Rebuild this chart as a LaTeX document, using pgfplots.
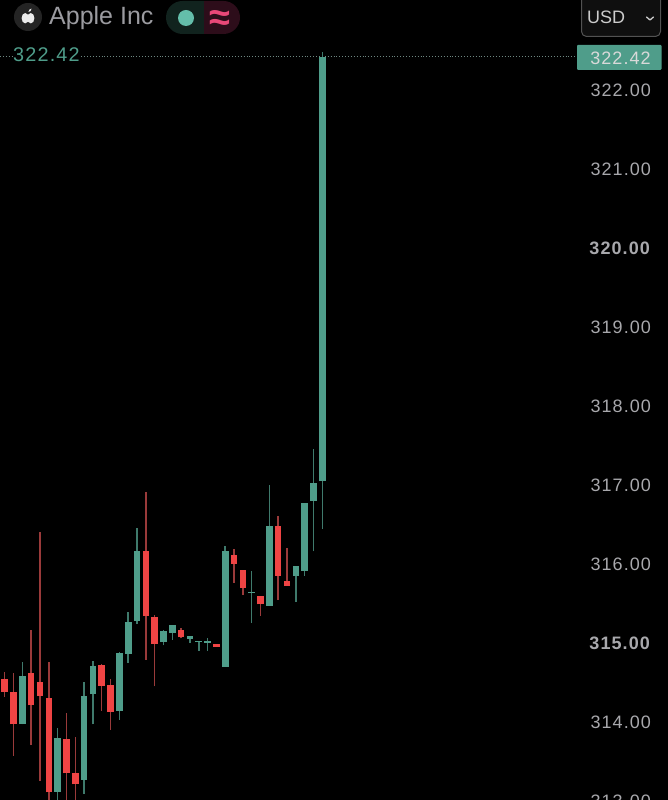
\documentclass[border=0pt]{standalone}
\usepackage{fontspec}
\setmainfont{Liberation Sans}
\newfontfamily\lab[LetterSpace=6]{Liberation Sans}
\usepackage{pgfplots}
\usepackage{pgfplotstable}
\pgfplotsset{compat=1.18}
\definecolor{upc}{HTML}{4F9D8A}
\definecolor{dnc}{HTML}{EF4444}
\definecolor{upw}{HTML}{3F7A6C}
\definecolor{dnw}{HTML}{9A3A3A}
\definecolor{tick}{HTML}{A8A8AC}
\pgfplotstableread{
i low high bot top
2 313.97 314.76 313.97 314.58
6 312.95 313.92 313.12 313.80
9 313.09 314.51 313.27 314.33
10 313.97 314.77 314.35 314.71
13 314.03 314.88 314.14 314.87
14 314.75 315.39 314.86 315.26
15 315.24 316.46 315.28 316.16
18 314.97 315.17 315.01 315.15
19 315.04 315.23 315.13 315.23
21 315.00 315.09 315.05 315.09
22 314.90 315.03 315.01 315.03
23 314.90 315.06 315.00 315.02
25 314.70 316.23 314.70 316.16
28 315.25 315.91 315.63 315.65
30 315.47 317.00 315.47 316.48
33 315.52 315.97 315.85 315.97
34 315.85 316.77 315.91 316.77
35 316.16 317.46 316.80 317.02
36 316.44 322.48 317.05 322.42
}\upt
\pgfplotstableread{
i low high bot top
0 314.32 314.63 314.38 314.54
1 313.57 314.62 313.97 314.38
3 313.71 315.16 314.21 314.62
4 313.25 316.40 314.33 314.51
5 312.95 314.76 313.11 314.31
7 312.95 314.11 313.35 313.78
8 312.95 313.81 313.21 313.36
11 314.14 314.73 314.46 314.72
12 313.90 314.54 314.13 314.47
16 314.79 316.91 315.34 316.16
17 314.45 315.35 314.99 315.33
20 315.06 315.19 315.07 315.16
24 314.95 314.99 314.95 314.99
26 315.76 316.19 316.00 316.11
27 315.61 315.92 315.70 315.92
29 315.34 315.59 315.49 315.59
31 315.55 316.61 315.85 316.48
32 315.72 316.20 315.72 315.79
}\dnt
\pgfplotsset{
  wick/.style n args={3}{draw=none,forget plot,mark=none,
    error bars/.cd,y dir=plus,y explicit,error mark=none,
    error bar style={line width=#2,draw=#1,line cap=butt}},
}
\begin{document}
\begin{tikzpicture}[x=1pt,y=1pt]
\useasboundingbox (0,0) rectangle (668,800);
\clip (0,0) rectangle (668,800);
\begin{axis}[
  at={(0pt,-40.5pt)},anchor=south west,
  width=668pt,height=840.5pt,scale only axis,
  xmin=-0.533,xmax=75.19,ymin=312.5,ymax=323.139,
  axis background/.style={fill=black},
  axis line style={draw=none},
  axis y line=right,axis x line=none,
  xtick=\empty,
  ytick={313,314,315,316,317,318,319,320,321,322},
  yticklabels={313.00,314.00,\textbf{315.00},316.00,317.00,318.00,319.00,\textbf{320.00},321.00,322.00},
  major tick length=0pt,
  yticklabel style={text=tick,font=\lab\fontsize{18}{18}\selectfont,anchor=east,xshift=-13.5pt},
]
\addplot[draw=upc!60!black!60!white,dotted,line width=0.9pt,forget plot,opacity=0.85] coordinates {(-0.533,322.42) (65.4,322.42)};
\addplot[wick={upw}{1.5pt}{}] table[x=i,y=low,y error expr=\thisrow{high}-\thisrow{low}] {\upt};
\addplot[wick={dnw}{1.5pt}{}] table[x=i,y=low,y error expr=\thisrow{high}-\thisrow{low}] {\dnt};
\addplot[wick={upc}{6.6pt}{}] table[x=i,y=bot,y error expr=\thisrow{top}-\thisrow{bot}] {\upt};
\addplot[wick={dnc}{6.6pt}{}] table[x=i,y=bot,y error expr=\thisrow{top}-\thisrow{bot}] {\dnt};
\end{axis}
\begin{scope}[shift={(0,800)},y=-1pt]
  % header
  \fill[white!14!black] (28,17) circle (14);
  \fill[white!92!black] (25.2,18.2) ellipse (3.6 and 5.2);
  \fill[white!92!black] (30.8,18.2) ellipse (3.6 and 5.2);
  \fill[white!92!black] (28.4,12) .. controls (28.4,10) and (30,8.8) .. (31.6,8.6) .. controls (31.6,10.6) and (30,12) .. (28.4,12) -- cycle;
  \node[anchor=west,inner sep=0pt,text=tick!115!white,font=\fontsize{25}{25}\selectfont] at (49,18) {Apple Inc};
  \begin{scope}
    \clip (166,1) rectangle (204,35);
    \fill[fill=upc!22!black,rounded corners=16.5pt] (166,1) rectangle (240,34);
  \end{scope}
  \begin{scope}
    \clip (204,1) rectangle (241,35);
    \fill[fill=dnc!20!black!95!blue,rounded corners=16.5pt] (166,1) rectangle (240,34);
  \end{scope}
  \fill[color={rgb,255:red,100;green,190;blue,170}] (186,18) circle (8);
  \node[text={rgb,255:red,232;green,72;blue,120},inner sep=0pt,font=\fontsize{38}{38}\selectfont\bfseries] at (220,21) {≈};
  % currency box
  \draw[draw=white!32!black,line width=1pt,rounded corners=5pt,fill=white!6!black] (581.5,-6) rectangle (660.5,36.5);
  \node[anchor=west,inner sep=0pt,text=white!80!black,font=\fontsize{18}{18}\selectfont] at (587,17.5) {USD};
  \draw[white!80!black,line width=1.3pt,line cap=round,line join=round] (646.5,17) -- (650,20) -- (653.5,17);
  % current price
  \node[anchor=west,inner sep=0pt,fill=black,text=upc,font=\lab\fontsize{19.8}{19.8}\selectfont] at (13,55) {322.42};
  \fill[upc,rounded corners=1pt] (577,45) rectangle (661.5,70);
  \node[anchor=center,inner sep=0pt,text=white!85!black,font=\lab\fontsize{18}{18}\selectfont] at (620.5,58) {322.42};
\end{scope}
\end{tikzpicture}
\end{document}
